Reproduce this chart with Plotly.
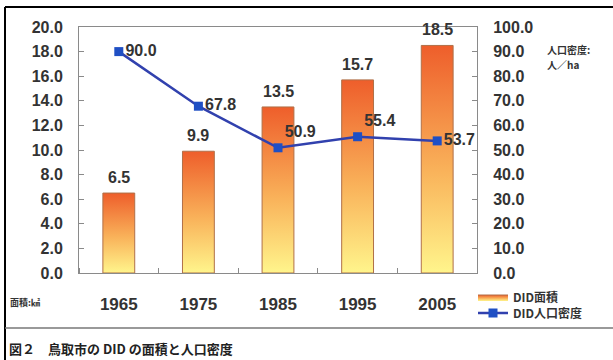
import plotly.graph_objects as go

years = ["1965", "1975", "1985", "1995", "2005"]
area = [6.5, 9.9, 13.5, 15.7, 18.5]
density = [90.0, 67.8, 50.9, 55.4, 53.7]
left_ticks = [0, 2, 4, 6, 8, 10, 12, 14, 16, 18, 20]
right_ticks = [0, 10, 20, 30, 40, 50, 60, 70, 80, 90, 100]
density_text_pos = ["middle right", "middle right", "top right", "top right", "middle right"]

# plot area in pixels: left 79, right 477, top 27, bottom 273 (613x360 page)
L, R, T, B, W, H = 79, 477, 27, 273, 613, 360
def px(x):
    return (x - L) / (R - L)
def py(y):
    return (B - y) / (B - T)

FONT = "Liberation Sans, Arial, sans-serif"
CJK = "Noto Sans CJK JP"
TXT = "#333333"
GRID = "#8a8a8a"
HALF = 0.2
TF = dict(family=FONT, size=16, color=TXT, weight="bold")

fig = go.Figure()

grad = dict(type="vertical",
            colorscale=[[0, "#FFF58C"], [0.45, "#F9B25A"], [1, "#EE5E2B"]])
for i, v in enumerate(area):
    fig.add_trace(go.Scatter(
        x=[i - HALF, i + HALF, i + HALF, i - HALF, i - HALF],
        y=[0, 0, v, v, 0],
        mode="lines", fill="toself", fillgradient=grad,
        line=dict(color="#B07048", width=1),
        name="DID面積", legendgroup="area", showlegend=(i == 0),
        legend="legend", hoverinfo="skip", yaxis="y"))

for i, v in enumerate(area):
    fig.add_annotation(x=i, y=v, xref="x", yref="y", text=f"{v:.1f}",
                       showarrow=False, yanchor="bottom", yshift=5, font=TF)

fig.add_trace(go.Scatter(
    x=list(range(len(years))), y=density, mode="lines+markers+text",
    name="DID人口密度", yaxis="y2", legend="legend2",
    line=dict(color="#3141AE", width=2.5),
    marker=dict(symbol="square", size=9, color="#1F4FC4"),
    text=[f"{v:.1f}" for v in density], textposition=density_text_pos,
    textfont=TF, cliponaxis=False))

legend_common = dict(xanchor="left", yanchor="middle",
                     font=dict(family=CJK, size=12, color=TXT, weight="bold"),
                     bgcolor="rgba(0,0,0,0)", itemwidth=30)

fig.update_layout(
    width=W, height=H,
    margin=dict(l=L, r=W - R, t=T, b=H - B),
    paper_bgcolor="white", plot_bgcolor="white",
    font=dict(family=FONT, size=16, color=TXT),
    xaxis=dict(range=[-0.5, len(years) - 0.5], tickmode="array",
               tickvals=list(range(len(years))), ticktext=years,
               ticks="", showgrid=False, zeroline=False,
               showline=True, linecolor=GRID, linewidth=1, mirror=True,
               ticklabelstandoff=16, tickfont=dict(size=17, weight="bold", color=TXT),
               minor=dict(tickmode="linear", tick0=-0.5, dtick=1,
                          ticks="inside", ticklen=5, tickcolor=GRID, showgrid=False)),
    yaxis=dict(range=[0, 20], tickmode="array", tickvals=left_ticks,
               ticktext=[f"{v:.1f}" for v in left_ticks],
               ticks="inside", ticklen=5, tickcolor=GRID,
               showgrid=False, zeroline=False, showline=True,
               linecolor=GRID, linewidth=1, ticklabelstandoff=12,
               tickfont=TF),
    yaxis2=dict(range=[0, 100], overlaying="y", side="right", tickmode="array",
                tickvals=right_ticks, ticktext=[f"{v:.1f}" for v in right_ticks],
                ticks="inside", ticklen=5, tickcolor=GRID,
                showgrid=False, zeroline=False, showline=True,
                linecolor=GRID, linewidth=1, ticklabelstandoff=12,
                tickfont=TF),
    legend=dict(x=px(473), y=py(297), **legend_common),
    legend2=dict(x=px(473), y=py(313), **legend_common),
    showlegend=True,
)

def note(x, y, text, size, color=TXT):
    fig.add_annotation(x=px(x), y=py(y), xref="paper", yref="paper",
                       text=text, showarrow=False, xanchor="left", yanchor="middle",
                       align="left", borderpad=0,
                       font=dict(family=CJK, size=size, color=color))

note(546, 49, "<b>人口密度:</b>", 10)
note(546, 65, "<b>人／ha</b>", 10)
note(9, 302, "<b>面積:㎢</b>", 9)
note(8, 348, "<b>図２　鳥取市の DID の面積と人口密度</b>", 13, "#222222")

# outer frame
fig.add_shape(type="line", xref="paper", yref="paper",
              x0=px(5), x1=px(W + 5), y0=py(7), y1=py(7),
              line=dict(color="black", width=2))
fig.add_shape(type="line", xref="paper", yref="paper",
              x0=px(5), x1=px(5), y0=py(7), y1=py(H + 5),
              line=dict(color="black", width=2))
fig.add_shape(type="line", xref="paper", yref="paper",
              x0=px(5), x1=px(W + 5), y0=py(328), y1=py(328),
              line=dict(color="#777777", width=1.5))

fig.write_html("out.html")
